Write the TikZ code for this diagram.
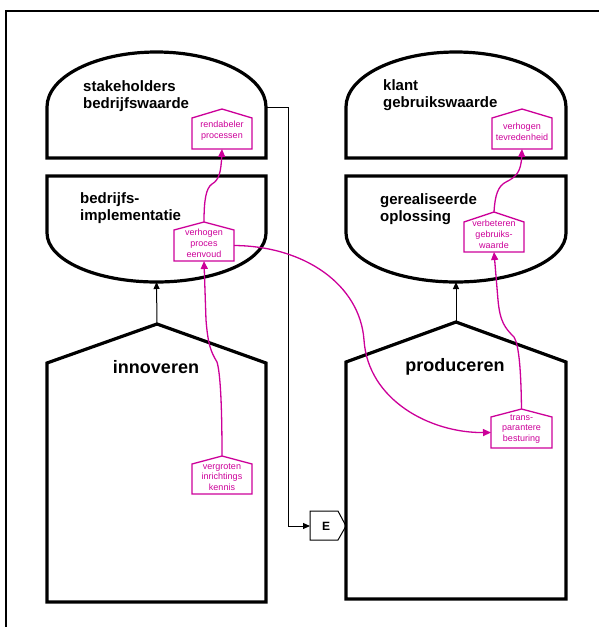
\documentclass[tikz,border=0pt]{standalone}
\usepackage{fontspec}
\setmainfont{Liberation Sans}
\usetikzlibrary{arrows.meta}
\definecolor{pk}{RGB}{204,0,153}
\tikzset{
 big/.style={line width=3.2pt, line join=miter},
 thinl/.style={line width=1pt},
 blackarrow/.style={thinl, -{Triangle[length=7pt,width=6pt]}},
 pkbox/.style={draw=pk, line width=1.3pt},
 pkline/.style={draw=pk, line width=1.3pt, -{Triangle[length=8pt,width=7pt]}},
 pktext/.style={text=pk, font=\fontsize{9}{10.8}\selectfont, align=center, inner sep=0pt},
 lbl/.style={font=\fontsize{15}{17}\selectfont\bfseries, align=left, anchor=north west, inner sep=0pt},
 biglbl/.style={font=\fontsize{18}{20}\selectfont\bfseries, anchor=base, inner sep=0pt},
}
% #1 name, #2 cx, #3 half width, #4 apex y, #5 shoulder y, #6 bottom y, #7 text centre y, #8 text
\newcommand\phouse[8]{%
 \coordinate (#1-apex) at (#2,-#4);
 \coordinate (#1-bot) at (#2,-#6);
 \coordinate (#1-left) at (#2-#3,{-(#5+#6)/2});
 \coordinate (#1-right) at (#2+#3,{-(#5+#6)/2});
 \draw[pkbox] (#2-#3,-#6) -- (#2+#3,-#6) -- (#2+#3,-#5) -- (#1-apex) -- (#2-#3,-#5) -- cycle;
 \node[pktext] (#1) at (#2,-#7) {#8};
}
\begin{document}
\begin{tikzpicture}[x=1pt,y=1pt]
\useasboundingbox (0,0) rectangle (599,-627);
% outer frame
\draw[line width=2pt] (6,-627) -- (6,-11) -- (599,-11);

% left column
\draw[big] (47,-158) -- (47,-107) arc[start angle=180,end angle=0,x radius=109.5,y radius=55] -- (266,-158) -- cycle;
\coordinate (sw-right) at (266,-107);
\node[lbl] (sw) at (83,-80) {stakeholders\\bedrijfswaarde};

\draw[big] (47,-233) -- (47,-176) -- (266,-176) -- (266,-233) arc[start angle=0,end angle=-180,x radius=109.5,y radius=49] -- cycle;
\coordinate (bi-bot) at (156.5,-282);
\node[lbl] (bi) at (80,-192) {bedrijfs-\\implementatie};

\draw[big] (47,-602) -- (47,-363) -- (157,-324) -- (266,-363) -- (266,-602) -- cycle;
\coordinate (inn-apex) at (157,-324);
\node[biglbl] (inn) at (156,-373) {innoveren};

% right column
\draw[big] (346,-158) -- (346,-107) arc[start angle=180,end angle=0,x radius=110,y radius=55] -- (566,-158) -- cycle;
\node[lbl] (kg) at (383,-79) {klant\\gebruikswaarde};

\draw[big] (346,-233) -- (346,-176) -- (566,-176) -- (566,-233) arc[start angle=0,end angle=-180,x radius=110,y radius=49] -- cycle;
\coordinate (go-bot) at (456,-282);
\node[lbl] (go) at (380,-193) {gerealiseerde\\oplossing};

\draw[big] (346,-599) -- (346,-362) -- (456,-322) -- (566,-362) -- (566,-599) -- cycle;
\coordinate (prod-apex) at (456,-322);
\node[biglbl] (prod) at (455,-371) {produceren};

% E node
\draw[thinl] (310,-511) -- (338,-511) -- (346,-526) -- (338,-540) -- (310,-540) -- cycle;
\coordinate (E-left) at (310,-526);
\node[font=\fontsize{12}{14}\selectfont\bfseries, inner sep=0pt] (E) at (326,-526) {E};

% pink houses
\phouse{rp}{222}{30}{109}{118}{149}{130.5}{rendabeler\\processen}
\phouse{vpe}{204}{30}{222}{230}{261}{243}{verhogen\\proces\\eenvoud}
\phouse{vik}{222}{30}{456}{464}{494}{477}{vergroten\\inrichtings\\kennis}
\phouse{vt}{522}{30}{109}{118}{149}{132}{verhogen\\tevredenheid}
\phouse{vgw}{494}{30}{212}{222}{252}{234}{verbeteren\\gebruiks-\\waarde}
\phouse{tb}{521.5}{30.5}{409}{417}{448}{429}{trans-\\parantere\\besturing}

% black connectors
\draw[blackarrow] (sw-right) -- ++(22,0) |- (E-left);
\draw[blackarrow] (inn-apex) -- (bi-bot);
\draw[blackarrow] (prod-apex) -- (go-bot);

% pink connectors
\draw[pkline] (vpe-apex) .. controls (204,-200) and (206,-188) .. (212,-184) .. controls (219,-180) and (221,-172) .. (rp-bot);
\draw[pkline] (vgw-apex) .. controls (495,-195) and (498,-186) .. (506,-182) .. controls (516,-177) and (521,-172) .. (vt-bot);
\draw[pkline] (vik-apex) .. controls (222,-400) and (220,-372) .. (217,-362) .. controls (211,-352) and (208,-345) .. (206,-320) -- (vpe-bot);
\draw[pkline] (tb-apex) .. controls (521,-370) and (519,-345) .. (514,-337) .. controls (505,-328) and (500,-322) .. (498,-300) -- (vgw-bot);
\draw[pkline] (vpe-right) .. controls (305,-246) and (360,-285) .. (364,-340) .. controls (368,-400) and (430,-433) .. (tb-left);
\end{tikzpicture}
\end{document}
